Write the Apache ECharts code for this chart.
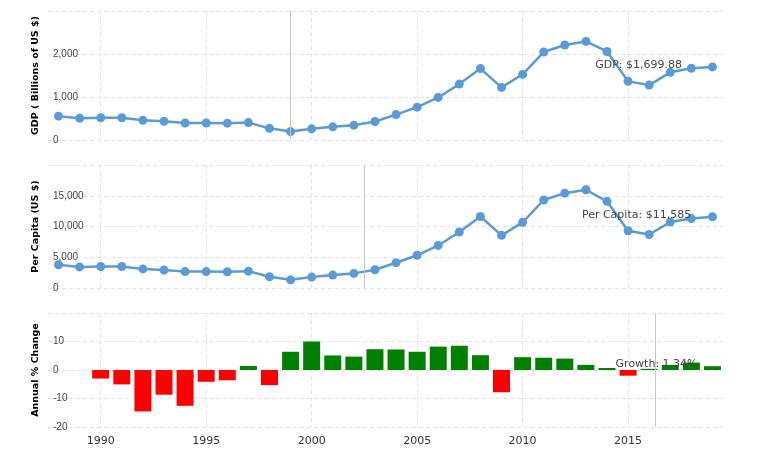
<!DOCTYPE html>
<html>
<head>
<meta charset="utf-8">
<script src="https://cdn.jsdelivr.net/npm/echarts@6/dist/echarts.min.js"></script>
<style>html,body{margin:0;padding:0;background:#fff;}#c{width:772px;height:461px;}</style>
</head>
<body>
<div id="c"></div>
<script>
const years = [1988,1989,1990,1991,1992,1993,1994,1995,1996,1997,1998,1999,2000,2001,2002,2003,2004,2005,2006,2007,2008,2009,2010,2011,2012,2013,2014,2015,2016,2017,2018,2019];
const gdp = [554.71,506.50,516.81,517.96,460.21,435.08,395.08,395.53,391.72,404.93,270.95,195.91,259.71,306.60,345.47,430.35,591.02,764.02,989.93,1299.71,1660.85,1222.64,1524.92,2045.92,2208.29,2292.47,2059.24,1363.48,1276.79,1574.20,1669.58,1699.88];
const perCapita = [3777,3429,3493,3490,3099,2929,2663,2666,2644,2738,1835,1331,1772,2100,2377,2976,4109,5323,6920,9101,11635,8563,10675,14311,15420,15974,14096,9313,8705,10720,11287,11585];
const growthYears = [1990,1991,1992,1993,1994,1995,1996,1997,1998,1999,2000,2001,2002,2003,2004,2005,2006,2007,2008,2009,2010,2011,2012,2013,2014,2015,2016,2017,2018,2019];
const growth = [-3.0,-5.05,-14.53,-8.67,-12.57,-4.14,-3.6,1.4,-5.3,6.4,10.0,5.1,4.7,7.3,7.2,6.4,8.2,8.5,5.2,-7.8,4.5,4.3,4.0,1.8,0.7,-2.0,0.4,1.8,2.6,1.34];
const xTicks = [1990,1995,2000,2005,2010,2015];
const gdpNote = {text:'GDP: $1,699.88', x:2015.5, y:1744};
const pcNote = {text:'Per Capita: $11,585', x:2015.4, y:11880};
const grNote = {text:'Growth: 1.34%', x:2016.35, y:2.0};
const cursorX = [1999, 2002.5, 2016.3];

const FONT = 'DejaVu Sans';
const blue = '#5b9bd5';
const gridLine = {show:true, lineStyle:{color:'#e2e2e2', type:[4,3], width:1}};

function xAxis(i){
  return {
    type:'value', gridIndex:i, min:1987.5, max:2019.5,
    axisLine:{show:false},
    axisTick:{show:false, customValues:xTicks},
    axisLabel:{show:i===2, customValues:xTicks, color:'#333', fontSize:11, fontFamily:FONT, margin:9, formatter:v => String(v)},
    splitLine:gridLine
  };
}
function yAxis(i, min, max, interval, name, fmt){
  return {
    type:'value', gridIndex:i, min:min, max:max, interval:interval,
    name:name, nameLocation:'middle', nameGap:7,
    nameTextStyle:{fontFamily:FONT, fontSize:9.5, fontWeight:'bold', color:'#000',
      rich:{b:{fontFamily:FONT, fontSize:9.5, fontWeight:'bold', color:'#000'}, n:{fontFamily:FONT, fontSize:9.5, color:'#000'}}},
    axisLine:{show:false}, axisTick:{show:false},
    axisLabel:{inside:true, margin:5, showMaxLabel:false, color:'#444', fontSize:10, fontFamily:'Liberation Sans',
      verticalAlign:'middle', padding:[0,0,9,0], formatter:fmt},
    splitLine:gridLine
  };
}
function note(n){
  return {symbol:'circle', symbolSize:0, silent:true,
    data:[{coord:[n.x,n.y], label:{show:true, position:'inside', formatter:n.text, color:'#444', fontFamily:FONT, fontSize:11}}]};
}
function cursor(x){
  return {silent:true, symbol:'none', label:{show:false}, lineStyle:{color:'#c8c8c8', type:'solid', width:1},
    data:[{xAxis:x}], animation:false};
}
const thousands = v => v.toLocaleString('en-US');

const chart = echarts.init(document.getElementById('c'), null, {renderer:'canvas'});
chart.setOption({
  animation:false,
  grid:[
    {left:48, right:49, top:11, height:129},
    {left:48, right:49, top:165, height:123},
    {left:48, right:49, top:313, height:114}
  ],
  xAxis:[xAxis(0), xAxis(1), xAxis(2)],
  yAxis:[
    yAxis(0, 0, 3000, 1000, 'GDP ( Billions of US $)', thousands),
    yAxis(1, 0, 20000, 5000, 'Per Capita (US $)', thousands),
    yAxis(2, -20, 20, 10, '{b|Annual} {n|%} {b|Change}', v => String(v))
  ],
  series:[
    {type:'line', xAxisIndex:0, yAxisIndex:0, data:years.map((y,i)=>[y,gdp[i]]),
      symbol:'circle', symbolSize:9, lineStyle:{color:blue, width:2.5}, itemStyle:{color:blue},
      markLine:cursor(cursorX[0]), markPoint:note(gdpNote)},
    {type:'line', xAxisIndex:1, yAxisIndex:1, data:years.map((y,i)=>[y,perCapita[i]]),
      symbol:'circle', symbolSize:9, lineStyle:{color:blue, width:2.5}, itemStyle:{color:blue},
      markLine:cursor(cursorX[1]), markPoint:note(pcNote)},
    {type:'bar', xAxisIndex:2, yAxisIndex:2, data:growthYears.map((y,i)=>[y,growth[i]]),
      barWidth:17,
      itemStyle:{color:p => p.value[1] >= 0 ? '#008000' : '#ff0000'},
      markLine:cursor(cursorX[2]), markPoint:note(grNote)}
  ]
});
</script>
</body>
</html>
